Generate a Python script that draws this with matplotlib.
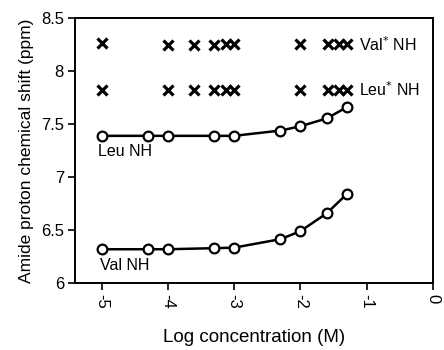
import matplotlib
matplotlib.use("Agg")
import matplotlib.pyplot as plt

# log concentration (M) of the titration points
log_conc = [-5.0, -4.3, -4.0, -3.3, -3.0, -2.3, -2.0, -1.6, -1.3]
leu_nh = [7.39, 7.39, 7.39, 7.39, 7.39, 7.44, 7.48, 7.555, 7.66]
val_nh = [6.32, 6.32, 6.32, 6.33, 6.335, 6.415, 6.49, 6.66, 6.84]

# reference compound (starred) points
star_conc = [-5.0, -4.0, -3.6, -3.3, -3.12, -3.0, -2.0, -1.58, -1.41, -1.3]
val_star = [8.265, 8.25, 8.25, 8.25, 8.255, 8.255, 8.255, 8.255, 8.255, 8.255]
leu_star = [7.825, 7.825, 7.825, 7.825, 7.825, 7.825, 7.825, 7.825, 7.825, 7.825]

xticks = [-5, -4, -3, -2, -1, 0]
yticks = [6, 6.5, 7, 7.5, 8, 8.5]
ytick_labels = ["6", "6.5", "7", "7.5", "8", "8.5"]

plt.rcParams['font.family'] = ['Liberation Sans', 'DejaVu Sans']

fig = plt.figure(figsize=(4.44, 3.5), dpi=100)
ax = fig.add_axes([0.169, 0.191, 0.806, 0.757])

ax.plot(log_conc, leu_nh, '-o', color='black', lw=1.8, ms=7,
        mfc='white', mec='black', mew=1.6)
ax.plot(log_conc, val_nh, '-o', color='black', lw=1.8, ms=7,
        mfc='white', mec='black', mew=1.6)
ax.plot(star_conc, val_star, 'x', color='black', ms=7, mew=2.3)
ax.plot(star_conc, leu_star, 'x', color='black', ms=7, mew=2.3)

ax.text(-1.12, 8.255, "Val$^{*}$ NH", fontsize=11.5, va='center', ha='left')
ax.text(-1.12, 7.825, "Leu$^{*}$ NH", fontsize=11.5, va='center', ha='left')
ax.text(-5.05, 7.24, "Leu NH", fontsize=11.5, va='center', ha='left')
ax.text(-5.02, 6.17, "Val NH", fontsize=11.5, va='center', ha='left')

ax.set_xlim(-5.4, 0)
ax.set_ylim(6, 8.5)
ax.set_xticks(xticks)
ax.set_xticklabels([str(t) for t in xticks], rotation=-90)
ax.set_yticks(yticks)
ax.set_yticklabels(ytick_labels)
ax.tick_params(direction='out', length=5, width=1.2, labelsize=12, pad=3)

for s in ax.spines.values():
    s.set_linewidth(1.4)

ax.set_xlabel("Log concentration (M)", fontsize=13.5, labelpad=14)
ax.set_ylabel("Amide proton chemical shift (ppm)", fontsize=12.5, labelpad=5)

fig.savefig("out.png", dpi=100)
plt.close()
